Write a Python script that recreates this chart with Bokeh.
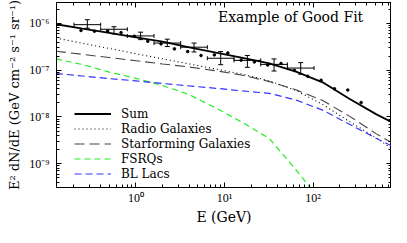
from bokeh.plotting import figure
from bokeh.models import (LogAxis, LogTicker, CustomJSTickFormatter, Legend, LegendItem,
                          Whisker, TeeHead, ColumnDataSource, Label, Range1d)
from bokeh.embed import file_html
from bokeh.resources import INLINE

# ---- model curves (E in GeV, E^2 dN/dE in GeV cm^-2 s^-1 sr^-1) ----
energy = [0.125, 0.25, 0.5, 1, 2, 4, 8, 16, 32, 64, 128, 256, 512, 770]
sum_flux = [9.6e-7, 7.7e-7, 6.25e-7, 5.05e-7, 4.09e-7, 3.09e-7, 2.38e-7, 1.83e-7,
            1.40e-7, 9.3e-8, 5.5e-8, 2.45e-8, 1.15e-8, 7.8e-9]
radio_flux = [4.85e-7, 3.76e-7, 2.91e-7, 2.25e-7, 1.75e-7, 1.36e-7, 1.06e-7, 8.2e-8,
              5.9e-8, 3.7e-8, 1.85e-8, 8.0e-9, 3.6e-9, 2.1e-9]
sf_flux = [2.55e-7, 2.18e-7, 1.86e-7, 1.59e-7, 1.36e-7, 1.17e-7, 9.7e-8, 7.8e-8,
           5.7e-8, 3.8e-8, 2.25e-8, 1.04e-8, 4.4e-9, 2.8e-9]
bllac_flux = [8.5e-8, 7.5e-8, 6.6e-8, 5.9e-8, 5.2e-8, 4.6e-8, 4.1e-8, 3.6e-8,
              3.2e-8, 2.3e-8, 1.4e-8, 7.0e-9, 3.5e-9, 2.4e-9]
fsrq_energy = [0.125, 0.25, 0.5, 1, 2, 4, 8, 16, 32, 64, 100]
fsrq_flux = [1.74e-7, 1.32e-7, 9.1e-8, 6.7e-8, 4.7e-8, 3.0e-8, 1.55e-8, 7.6e-9,
             3.46e-9, 7.4e-10, 2.6e-10]

# ---- binned data with error bars ----
bin_center = [0.283, 0.566, 1.13, 2.26, 4.53, 9.05, 18.1, 36.2, 72.4]
bin_low = [0.2, 0.4, 0.8, 1.6, 3.2, 6.4, 12.8, 25.6, 51.2]
bin_high = [0.4, 0.8, 1.6, 3.2, 6.4, 12.8, 25.6, 51.2, 102.4]
bin_flux = [9.4e-7, 7.5e-7, 5.4e-7, 3.8e-7, 3.1e-7, 1.8e-7, 1.62e-7, 1.33e-7, 1.11e-7]
bin_flux_hi = [1.2e-6, 8.5e-7, 6.5e-7, 4.6e-7, 3.8e-7, 2.5e-7, 2.06e-7, 1.74e-7, 1.45e-7]
bin_flux_lo = [7.9e-7, 5.95e-7, 4.5e-7, 3.2e-7, 2.45e-7, 1.31e-7, 1.15e-7, 9.6e-8, 8.2e-8]

# ---- small dots ----
dot_energy = [0.24, 0.34, 0.48, 0.68, 0.96, 1.36, 1.92, 2.72, 3.84, 5.43, 7.68, 10.9,
              15.4, 21.7, 30.7, 43.4, 61.4, 86.9, 123, 174, 246, 348]
dot_flux = [7.06e-7, 6.81e-7, 6.88e-7, 6.37e-7, 5.31e-7, 4.15e-7, 3.66e-7, 2.85e-7,
            2.50e-7, 2.06e-7, 2.12e-7, 2.33e-7, 1.64e-7, 1.50e-7, 1.29e-7, 1.39e-7,
            9.9e-8, 7.4e-8, 6.08e-8, 4.0e-8, 3.76e-8, 2.03e-8]

SERIF = "DejaVu Serif"
TICKFONT = "Liberation Serif"

p = figure(width=391, height=227, x_axis_type="log", y_axis_type="log",
           x_range=Range1d(0.127, 766), y_range=Range1d(3.1e-10, 2.8e-6),
           output_backend="svg", toolbar_location=None,
           min_border_left=56, min_border_right=0, min_border_top=2, min_border_bottom=0)
p.grid.visible = False
p.outline_line_color = "black"
p.outline_line_width = 1
p.background_fill_color = "white"
p.border_fill_color = "white"

sup_code = """
const s = {"-":"\u207b","0":"\u2070","1":"\u00b9","2":"\u00b2","3":"\u00b3","4":"\u2074",
           "5":"\u2075","6":"\u2076","7":"\u2077","8":"\u2078","9":"\u2079"};
const e = Math.round(Math.log10(tick));
return "10" + String(e).split("").map(c => s[c]).join("");
"""

def style(ax, labels=True):
    ax.ticker = LogTicker(mantissas=[1], num_minor_ticks=10)
    ax.major_tick_in = 5
    ax.major_tick_out = 0
    ax.minor_tick_in = 3
    ax.minor_tick_out = 0
    ax.axis_line_color = "black"
    ax.major_tick_line_color = "black"
    ax.minor_tick_line_color = "black"
    if labels:
        ax.formatter = CustomJSTickFormatter(code=sup_code)
        ax.major_label_text_font = TICKFONT
        ax.major_label_text_font_size = "12px"
        ax.major_label_text_color = "black"
        ax.axis_label_text_font = SERIF
        ax.axis_label_text_font_style = "normal"
        ax.axis_label_text_color = "black"
    else:
        ax.formatter = CustomJSTickFormatter(code="return '';")
        ax.major_label_text_font_size = "0px"
        ax.major_label_standoff = 0
        ax.axis_label_standoff = 0

xa = p.xaxis[0]
ya = p.yaxis[0]
style(xa)
style(ya)
xa.axis_label = "E (GeV)"
xa.axis_label_text_font_size = "14px"
xa.major_label_standoff = 3
xa.axis_label_standoff = 1
ya.axis_label = "E\u00b2 dN/dE (GeV cm\u207b\u00b2 s\u207b\u00b9 sr\u207b\u00b9)"
ya.axis_label_text_font_size = "13px"
ya.major_label_standoff = 7
ya.axis_label_standoff = 4

top = LogAxis()
style(top, labels=False)
p.add_layout(top, "above")
right = LogAxis()
style(right, labels=False)
p.add_layout(right, "right")

r_sum = p.line(energy, sum_flux, line_color="black", line_width=1.8)
r_radio = p.line(energy, radio_flux, line_color="black", line_width=1.1, line_dash="1 3")
r_sf = p.line(energy, sf_flux, line_color="#444444", line_width=1.1, line_dash="10 5")
r_fsrq = p.line(fsrq_energy, fsrq_flux, line_color="#22ee22", line_width=1.2, line_dash="6 4")
r_bl = p.line(energy, bllac_flux, line_color="#3333ff", line_width=1.2, line_dash="7 4")

src = ColumnDataSource(dict(x=bin_center, xlo=bin_low, xhi=bin_high,
                            y=bin_flux, ylo=bin_flux_lo, yhi=bin_flux_hi))
p.add_layout(Whisker(source=src, base="x", lower="ylo", upper="yhi", dimension="height",
                     line_color="black", line_width=1,
                     upper_head=TeeHead(size=5, line_color="black", line_width=1),
                     lower_head=TeeHead(size=5, line_color="black", line_width=1)))
p.add_layout(Whisker(source=src, base="y", lower="xlo", upper="xhi", dimension="width",
                     line_color="black", line_width=1,
                     upper_head=TeeHead(size=4, line_color="black", line_width=1),
                     lower_head=TeeHead(size=4, line_color="black", line_width=1)))

p.scatter(dot_energy, dot_flux, size=2.6, color="black")

p.add_layout(Label(x=55.7, y=1.35e-6, text="Example of Good Fit", text_font=SERIF,
                   text_font_size="14px", text_align="center", text_baseline="middle",
                   text_color="black"))

legend = Legend(items=[LegendItem(label="Sum", renderers=[r_sum]),
                       LegendItem(label="Radio Galaxies", renderers=[r_radio]),
                       LegendItem(label="Starforming Galaxies", renderers=[r_sf]),
                       LegendItem(label="FSRQs", renderers=[r_fsrq]),
                       LegendItem(label="BL Lacs", renderers=[r_bl])],
                location=(18, 6), glyph_width=37, glyph_height=15, label_height=15,
                spacing=0, padding=0, margin=0, label_standoff=10,
                label_text_font=SERIF, label_text_font_size="12px",
                label_text_color="black",
                background_fill_alpha=0, border_line_alpha=0)
p.add_layout(legend)

open("out.html", "w").write(file_html(p, INLINE))
